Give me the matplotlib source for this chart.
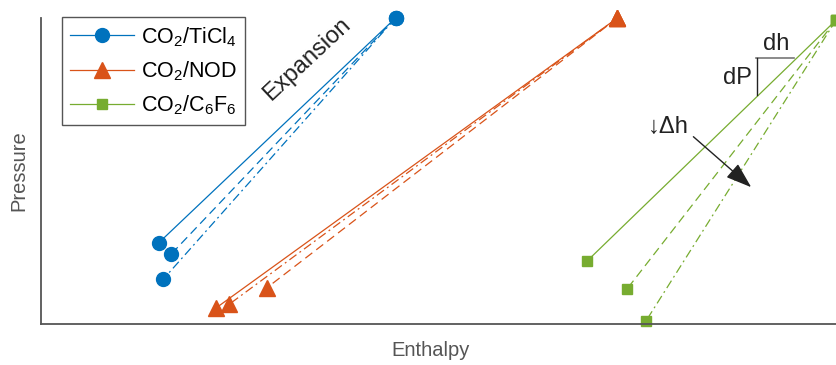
import matplotlib.pyplot as plt

plt.rcParams['font.family'] = ['Liberation Sans', 'DejaVu Sans']
plt.rcParams['mathtext.fontset'] = 'custom'
plt.rcParams['mathtext.rm'] = 'Liberation Sans'
plt.rcParams['mathtext.default'] = 'regular'

# expansion paths: common inlet state, three outlet states per mixture
mixtures = ["CO$_2$/TiCl$_4$", "CO$_2$/NOD", "CO$_2$/C$_6$F$_6$"]
colors = ["#0072BD", "#D95319", "#77AC30"]
markers = ["o", "^", "s"]
msizes = [10, 11, 7]

h_in = [44.6, 72.5, 100.0]
p_in = [100.0, 100.0, 99.3]

# outlet states in order: solid, dashed, dash-dot
h_out = [[14.8, 16.4, 15.4],
         [22.0, 28.4, 23.7],
         [68.7, 73.7, 76.1]]
p_out = [[26.5, 22.9, 14.7],
         [5.2, 11.8, 6.5],
         [20.6, 11.4, 1.0]]

styles = ["-", (0, (7, 4)), (0, (7, 3, 1.5, 3))]

fig = plt.figure(figsize=(8.36, 3.65), dpi=100)
ax = fig.add_axes([41 / 836, 41 / 365, 795 / 836, 306 / 365])

for i in range(3):
    for j in range(3):
        ax.plot([h_in[i], h_out[i][j]], [p_in[i], p_out[i][j]],
                linestyle=styles[j], color=colors[i], lw=0.9,
                marker=markers[i], markersize=msizes[i], clip_on=False,
                label=mixtures[i] if j == 0 else None)

ax.set_xlim(0, 100)
ax.set_ylim(0, 100)
ax.set_xticks([])
ax.set_yticks([])
for s in ["top", "right"]:
    ax.spines[s].set_visible(False)
for s in ["left", "bottom"]:
    ax.spines[s].set_color("#555555")
    ax.spines[s].set_linewidth(1.3)

fig.text(431 / 836, 1 - 350 / 365, "Enthalpy", fontsize=14.5, color="#555555",
         ha="center", va="center")
fig.text(19 / 836, 1 - 171 / 365, "Pressure", fontsize=14.5, color="#555555",
         ha="center", va="center", rotation=90)

leg = ax.legend(loc="upper left", bbox_to_anchor=(0.026, 1.004), fontsize=15.5,
                handlelength=3.0, labelspacing=0.5, borderpad=0.38,
                borderaxespad=0, handletextpad=0.3, fancybox=False,
                framealpha=1)
leg.get_frame().set_edgecolor("#555555")
leg.get_frame().set_linewidth(1.0)

ax.text(33.5, 86.5, "Expansion", fontsize=17, rotation=43,
        ha="center", va="center", color="#222222")

# slope triangle on the solid C6F6 line
ax.plot([89.9, 94.7], [86.9, 86.9], color="#777777", lw=1.2)
ax.plot([90.0, 90.0], [86.9, 74.8], color="#222222", lw=1.0)
ax.text(92.5, 91.5, "dh", fontsize=17, ha="center", va="center", color="#222222")
ax.text(87.6, 80.4, "dP", fontsize=17, ha="center", va="center", color="#222222")
ax.text(78.9, 64.4, "↓Δh", fontsize=17, ha="center", va="center",
        color="#222222")
ax.annotate("", xy=(89.6, 44.1), xytext=(81.8, 61.8),
            arrowprops=dict(arrowstyle="-|>,head_length=1.6,head_width=0.55",
                            color="#222222", lw=1.0))

fig.savefig("out.png", dpi=100)
